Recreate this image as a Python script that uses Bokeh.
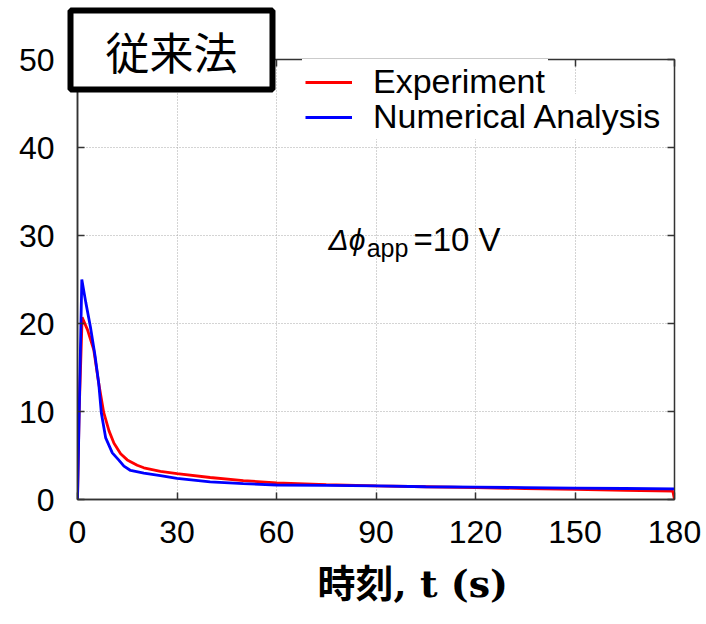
from bokeh.plotting import figure
from bokeh.models import (Range1d, Label, Legend, LegendItem, LinearAxis, FixedTicker,
                          Title, CustomJSTickFormatter)
from bokeh.embed import file_html
from bokeh.resources import INLINE

# ---- data ----
t_exp = [0, 0.5, 1.4, 3, 4.9, 6.4, 7.9, 9.5, 11, 13, 15, 18, 20, 25, 30, 40, 50, 60, 75, 90, 105, 120, 135, 150, 165, 179.5, 180]
v_exp = [0, 10, 20.7, 19.3, 17.0, 13.2, 9.9, 7.8, 6.4, 5.2, 4.5, 3.9, 3.6, 3.2, 2.95, 2.5, 2.15, 1.9, 1.7, 1.55, 1.45, 1.35, 1.25, 1.15, 1.05, 0.95, 0]
t_num = [0, 1.3, 2.5, 3.9, 5.3, 6.4, 7.2, 8.5, 10.5, 12.4, 14, 16, 20, 25, 30, 40, 50, 60, 75, 90, 105, 120, 135, 150, 165, 180]
v_num = [0, 25.0, 22.4, 19.6, 16.3, 13.2, 9.8, 7.0, 5.3, 4.5, 3.8, 3.3, 3.0, 2.7, 2.4, 2.0, 1.8, 1.65, 1.6, 1.55, 1.45, 1.4, 1.35, 1.3, 1.25, 1.2]
x_ticks = [0, 30, 60, 90, 120, 150, 180]
y_ticks = [0, 10, 20, 30, 40, 50]
legend_labels = ["Experiment", "Numerical Analysis"]
title_text = "従来法"
xlabel_text = "時刻, t (s)"
annot_main = "Δϕ"
annot_sub = "app"
annot_rest = "=10 V"

p = figure(width=706, height=624, output_backend="svg", toolbar_location=None,
           x_range=Range1d(0, 180), y_range=Range1d(0, 50),
           min_border_left=77, min_border_right=32, min_border_top=59, min_border_bottom=125)
p.background_fill_color = "white"
p.border_fill_color = "white"
p.outline_line_color = "#333333"
p.outline_line_width = 1.5

tick_font = "Liberation Sans"
for ax in (p.xaxis[0], p.yaxis[0]):
    ax.major_label_text_font = tick_font
    ax.major_label_text_font_size = "32px"
    ax.major_label_text_color = "black"
    ax.axis_line_color = "#333333"
    ax.axis_line_width = 1.5
    ax.major_tick_in = 7
    ax.major_tick_out = 0
    ax.major_tick_line_color = "#333333"
    ax.major_tick_line_width = 1.5
    ax.minor_tick_line_color = None
p.xaxis[0].ticker = FixedTicker(ticks=x_ticks)
p.yaxis[0].ticker = FixedTicker(ticks=y_ticks)
p.xaxis[0].major_label_standoff = 21
p.yaxis[0].major_label_standoff = 23

# mirror ticks (no labels)
top = LinearAxis(ticker=FixedTicker(ticks=x_ticks), formatter=CustomJSTickFormatter(code="return ''"))
right = LinearAxis(ticker=FixedTicker(ticks=y_ticks), formatter=CustomJSTickFormatter(code="return ''"))
for ax in (top, right):
    ax.major_label_standoff = 0
    ax.axis_line_color = "#333333"
    ax.major_tick_in = 7
    ax.major_tick_out = 0
    ax.major_tick_line_color = "#333333"
    ax.major_tick_line_width = 1.5
    ax.minor_tick_line_color = None
p.add_layout(top, "above")
p.add_layout(right, "right")

p.xgrid.ticker = FixedTicker(ticks=x_ticks)
p.ygrid.ticker = FixedTicker(ticks=y_ticks)
for g in (p.xgrid[0], p.ygrid[0]):
    g.grid_line_color = "#a8a8a8"
    g.grid_line_dash = "1 2"
    g.grid_line_width = 1

r1 = p.line(t_exp, v_exp, line_color="#ff0000", line_width=2.8)
r2 = p.line(t_num, v_num, line_color="#0000ff", line_width=2.8)

legend_style = dict(margin=0, padding=3, spacing=0,
                    glyph_width=47, glyph_height=30, label_height=30, label_standoff=21,
                    label_text_font=tick_font, label_text_font_size="34px", label_text_color="black",
                    border_line_alpha=0, background_fill_color="white", background_fill_alpha=1)
legend_b = Legend(items=[LegendItem(label=legend_labels[1], renderers=[r2])],
                  location=(225, 360), **legend_style)
legend_a = Legend(items=[LegendItem(label=legend_labels[0], renderers=[r1])],
                  location=(225, 395), **legend_style)
p.add_layout(legend_b)
p.add_layout(legend_a)

# annotation  (Δϕ_app = 10 V)
p.add_layout(Label(x=75.7, y=29.6, text=annot_main, text_font=tick_font, text_font_style="italic",
                   text_font_size="30px", text_baseline="alphabetic", text_align="left",
                   text_color="black"))
p.add_layout(Label(x=87.2, y=28.6, text=annot_sub, text_font=tick_font,
                   text_font_size="25px", text_baseline="alphabetic", text_align="left",
                   text_color="black"))
p.add_layout(Label(x=101.3, y=29.6, text=annot_rest, text_font=tick_font,
                   text_font_size="33px", text_baseline="alphabetic", text_align="left",
                   text_color="black"))

# boxed title
p.title.text = title_text
p.title.text_font = "Noto Sans CJK JP"
p.title.text_font_style = "normal"
p.title.text_font_size = "44px"
p.title.text_color = "black"
p.title.align = "left"
p.title.offset = -7
p.title.standoff = -60
p.title.background_fill_color = "white"
p.title.border_line_color = "black"
p.title.border_line_width = 6
p.title.padding = dict(left=35, right=35, top=8, bottom=7)

# x axis label
xt = Title(text=xlabel_text, align="left", offset=240, standoff=27,
           text_font="DejaVu Serif, Noto Sans CJK JP", text_font_style="bold",
           text_font_size="38px", text_color="black")
p.add_layout(xt, "below")

open("out.html", "w").write(file_html(p, INLINE))
